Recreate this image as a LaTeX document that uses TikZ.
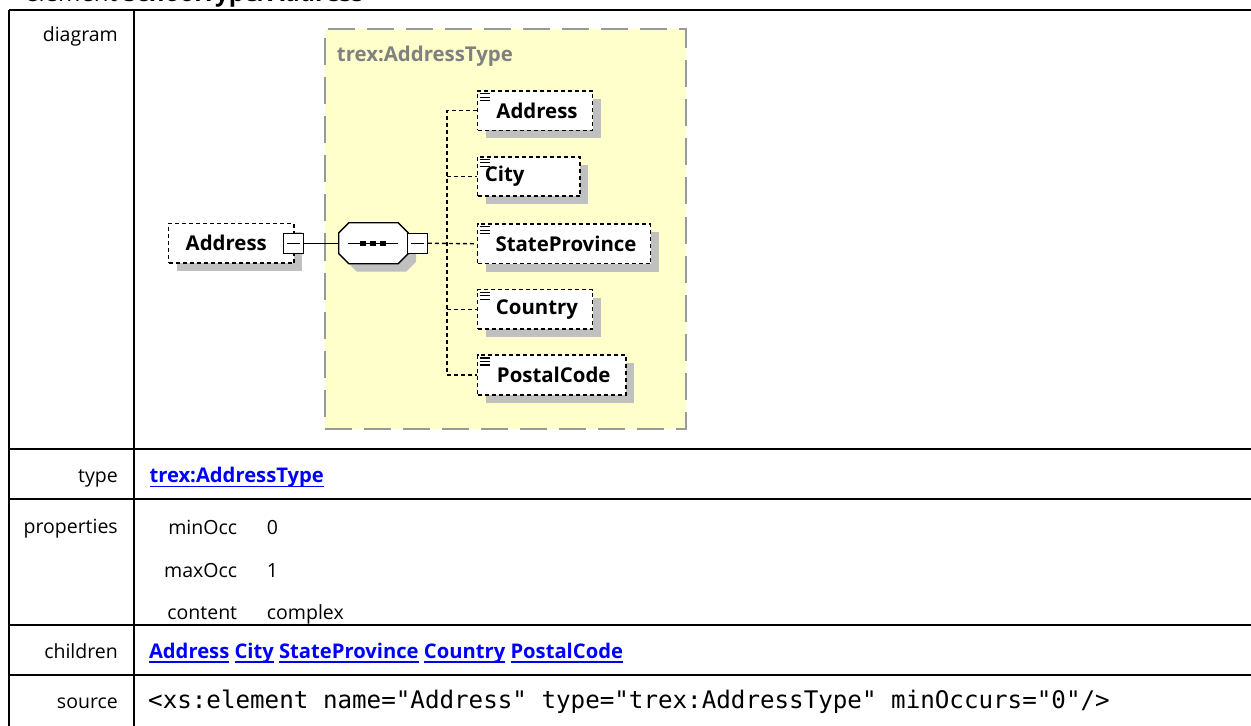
\documentclass[tikz,border=0pt]{standalone}
\usepackage{fontspec}
\setmainfont{Open Sans}
\setmonofont{DejaVu Sans Mono}
\usetikzlibrary{shadows}
\definecolor{ctyellow}{HTML}{FFFFCC}
\definecolor{ctborder}{HTML}{999999}
\definecolor{shadowgray}{HTML}{C0C0C0}
\definecolor{linkblue}{HTML}{0000FF}
\definecolor{typegray}{HTML}{808080}
\newcommand\lblfont{\fontsize{19.5bp}{23bp}\selectfont}
\newcommand\linkfont{\fontsize{20.2bp}{24bp}\selectfont\bfseries}
\newcommand\elfont{\fontsize{20.4bp}{24bp}\selectfont\bfseries}
\newcommand\lnk[1]{\setbox0=\hbox{#1}\rlap{\rule[-4.5bp]{\wd0}{1.4bp}}\box0\relax}
\begin{document}
\begin{tikzpicture}[x=1bp,y=-1bp,
  tbl/.style={line width=2bp},
  lbl/.style={anchor=base east, inner sep=0, font=\lblfont},
  val/.style={anchor=base west, inner sep=0, font=\lblfont},
  lnkstyle/.style={anchor=base west, inner sep=0, font=\linkfont, text=linkblue},
  shad/.style={drop shadow={opacity=1, fill=shadowgray, shadow xshift=8bp, shadow yshift=-8bp}},
  elem/.style={draw=black, dash pattern=on 4bp off 3bp, line width=1.6bp, fill=white,
    minimum height=39.5bp, inner sep=0, font=\elfont, shad},
  minusbox/.style={draw=black, solid, fill=white, minimum size=20bp, inner sep=0, line width=1.2bp},
  conn/.style={line width=1.4bp, dash pattern=on 4bp off 3bp},
]
\useasboundingbox (0,0) rectangle (1251,726);
\fill[white] (0,0) rectangle (1251,726);

% title (mostly cut off at the top)
\node[anchor=base west, inner sep=0, font=\fontsize{24bp}{28bp}\selectfont] (title) at (25,2) {element \textbf{SchoolType/Address}};

% table grid
\draw[tbl] (9,10) -- (1251,10);
\draw[tbl] (9,10) -- (9,726);
\draw[tbl] (133.7,10) -- (133.7,726);
\draw[tbl] (9,449.3) -- (1251,449.3);
\draw[tbl] (9,499) -- (1251,499);
\draw[tbl] (9,624.7) -- (1251,624.7);
\draw[tbl] (9,674.7) -- (1251,674.7);

% row labels
\node[lbl] (ldiagram) at (118,42) {diagram};
\node[lbl] (ltype) at (118,482.7) {type};
\node[lbl] (lprops) at (118,533.5) {properties};
\node[lbl] (lchildren) at (118,658) {children};
\node[lbl] (lsource) at (118,708.3) {source};

% type row
\node[lnkstyle] (typelink) at (149.3,482.7) {\lnk{trex:AddressType}};

% properties
\node[lbl] (pmin) at (237.3,534.5) {minOcc};
\node[val] (vmin) at (266.7,534.5) {0};
\node[lbl] (pmax) at (237.3,577.3) {maxOcc};
\node[val] (vmax) at (266.7,577.3) {1};
\node[lbl] (pcont) at (237.3,619.3) {content};
\node[val] (vcont) at (266.7,619.3) {complex};

% children
\node[lnkstyle] (childlinks) at (148.8,658) {\lnk{Address} \lnk{City} \lnk{StateProvince} \lnk{Country} \lnk{PostalCode}};

% source
\node[anchor=base west, inner sep=0, font=\ttfamily\fontsize{24.2bp}{28bp}\selectfont] (src) at (148,708.3)
  {<xs:element name="Address" type="trex:AddressType" minOccurs="0"/>};

% ---------- diagram ----------
\node[draw=ctborder, fill=ctyellow, line width=2bp, dash pattern=on 27bp off 12bp,
  minimum width=361bp, minimum height=399.5bp, inner sep=0] (ctype) at (505.5,228.75) {};
\node[anchor=base west, inner sep=0, font=\elfont, text=typegray] (ctlabel) at (336.7,61.7) {trex:AddressType};

% top element
\node[elem, minimum width=125.5bp] (top) at (231.25,243.25) {Address\hspace*{10bp}};
\node[minusbox] (m1) at (293.5,243.25) {};
\draw[line width=1.2bp] ([xshift=4bp]m1.west) -- ([xshift=-4bp]m1.east);

% sequence compositor (octagon)
\node[minimum width=69bp, minimum height=40.5bp, inner sep=0] (seq) at (373.5,243.25) {};
\draw[line width=1.3bp, fill=white, shad]
  ([xshift=10bp]seq.north west) -- ([xshift=-10bp]seq.north east) -- ([yshift=-10bp]seq.north east)
  -- ([yshift=10bp]seq.south east) -- ([xshift=-10bp]seq.south east) -- ([xshift=10bp]seq.south west)
  -- ([yshift=10bp]seq.south west) -- ([yshift=-10bp]seq.north west) -- cycle;
\draw[line width=1.3bp] ([xshift=9bp]seq.west) -- ([xshift=-10bp]seq.east);
\foreach \cx/\nm in {363.3/d1,373.3/d2,383.3/d3}
  \node[fill=black, minimum width=6bp, minimum height=5.5bp, inner sep=0] (\nm) at (\cx,243.25) {};
\node[minusbox] (m2) at (417.3,243.25) {};
\draw[line width=1.2bp] ([xshift=4bp]m2.west) -- ([xshift=-4bp]m2.east);
\draw[line width=1.3bp] (m1.east) -- (seq.west);

% child elements
\node[elem, minimum width=115bp] (c1) at (535,110.75) {\hspace*{4bp}Address};
\node[elem, minimum width=102.5bp] (c2) at (528.75,176.5) {\hspace*{4bp}City\hspace*{52bp}};
\node[elem, minimum width=173bp] (c3) at (564,243.75) {\hspace*{4bp}StateProvince};
\node[elem, minimum width=115bp] (c4) at (535,309.25) {\hspace*{4bp}Country};
\node[elem, minimum width=148.5bp] (c5) at (551.75,375) {\hspace*{4bp}PostalCode};

\foreach \n in {c1,c2,c3,c4,c5}{
  \foreach \d in {3.5bp,7bp,10.5bp}
    \draw[line width=1.1bp] ([xshift=3bp,yshift=-\d]\n.north west) -- ++(10,0);
}

% connectors
\coordinate (jn) at (447,243.25);
\draw[conn] (c1.west) -- (c1.west -| jn) -- (c5.west -| jn) -- (c5.west);
\draw[conn] (c2.west -| jn) -- (c2.west);
\draw[conn] (c4.west -| jn) -- (c4.west);
\draw[conn] (m2.east) -- (c3.west);
\end{tikzpicture}
\end{document}
